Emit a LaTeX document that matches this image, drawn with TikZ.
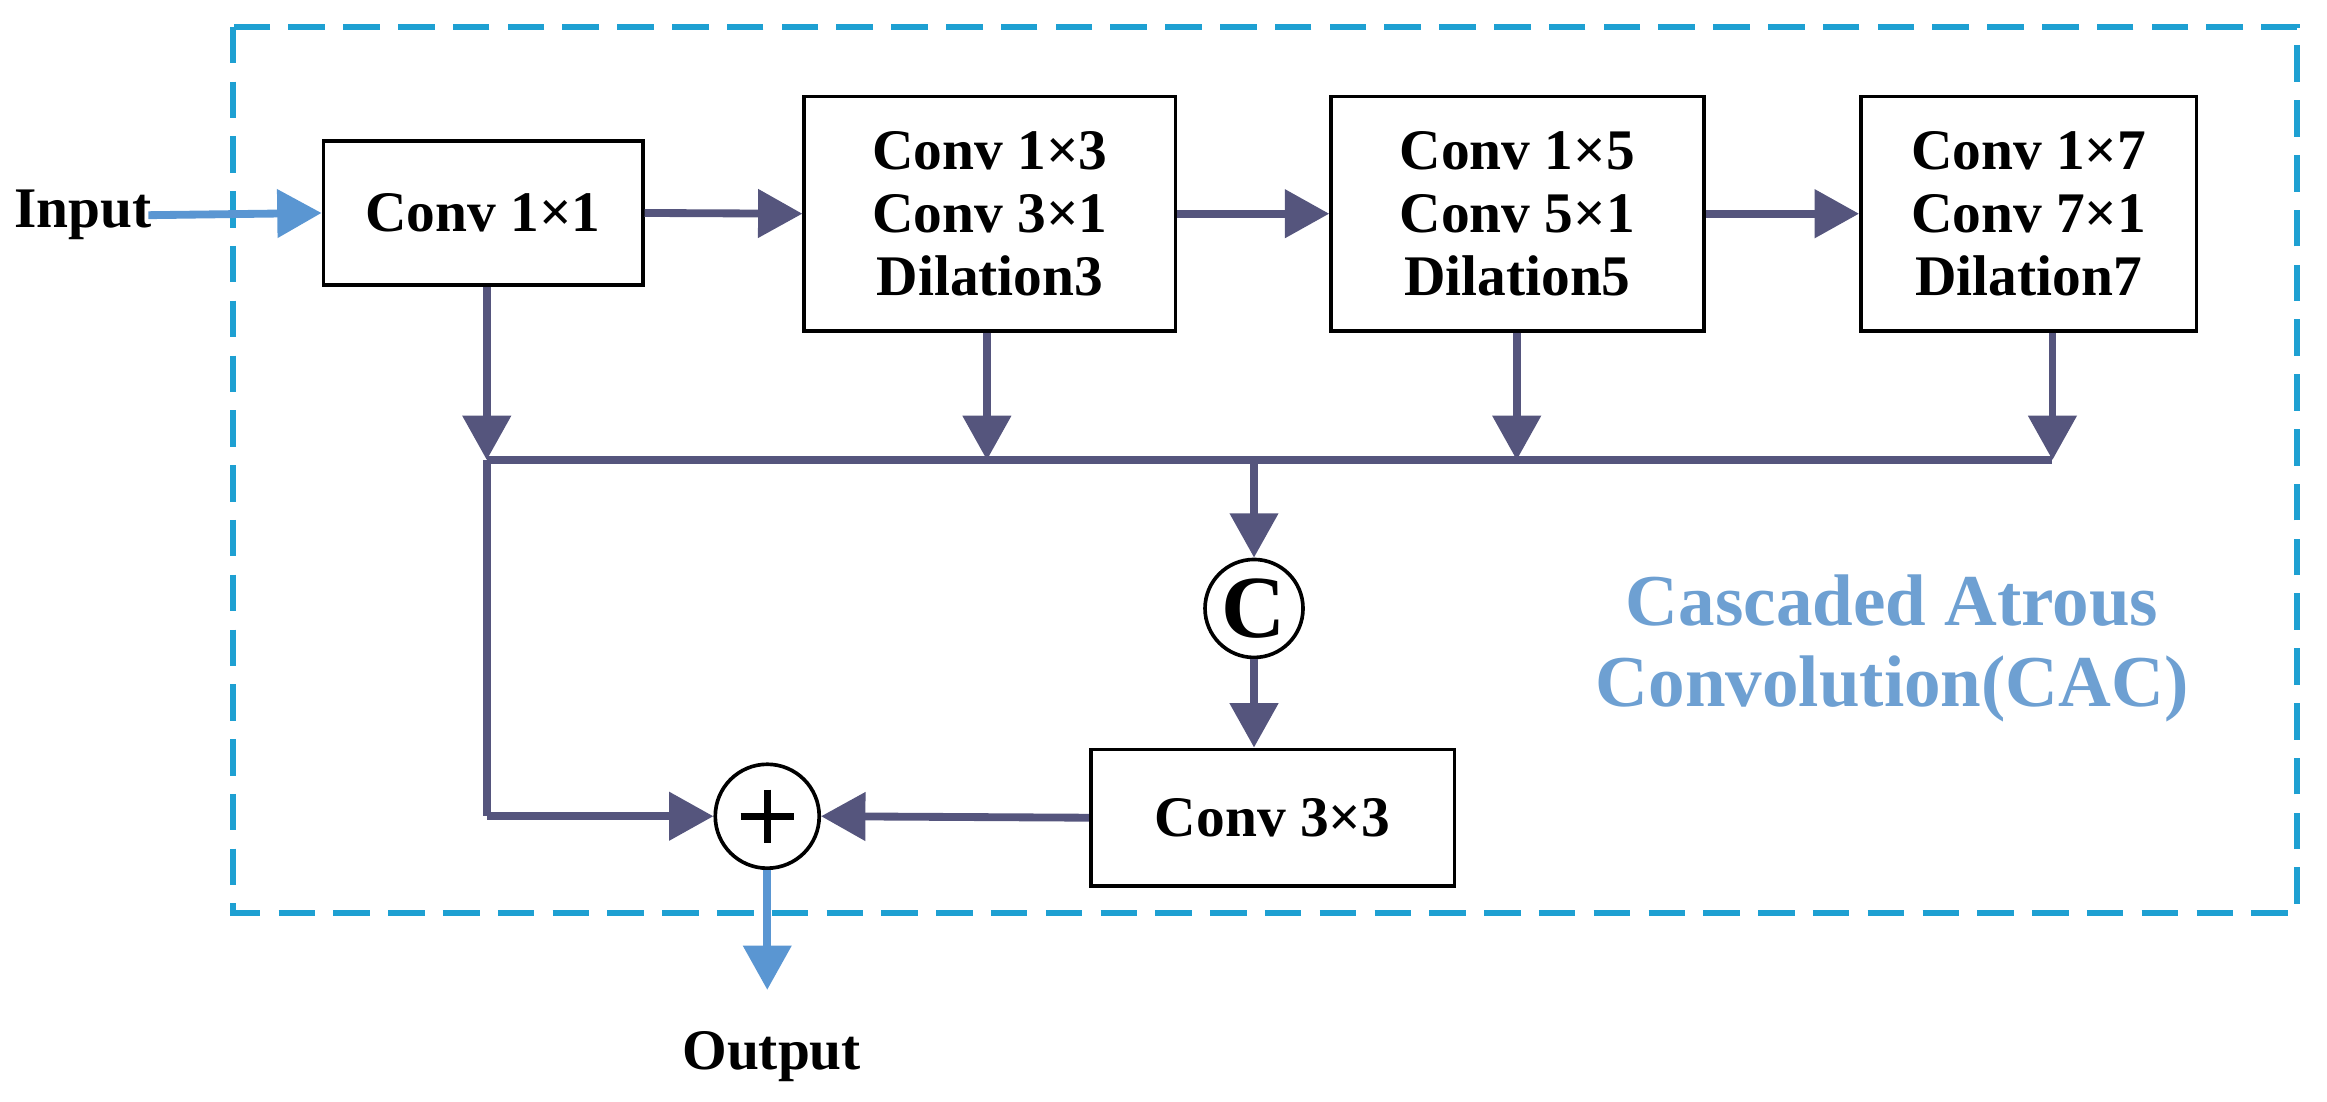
\documentclass[tikz,border=0pt]{standalone}
\usepackage{fontspec}
\setmainfont{Liberation Serif}
\usetikzlibrary{arrows.meta}
\definecolor{dk}{RGB}{85,85,125}
\definecolor{lb}{RGB}{90,150,210}
\definecolor{cy}{RGB}{30,160,210}
\definecolor{tl}{RGB}{110,160,210}
\begin{document}
\begin{tikzpicture}[x=0.01cm,y=-0.01cm,
 box/.style={draw=black,line width=0.7pt,fill=white,align=center,font=\fontsize{11}{12}\selectfont\bfseries,inner sep=0pt},
 arr/.style={draw=dk,line width=1.5pt,-{Triangle[width=9pt,length=8.5pt]}},
 ln/.style={draw=dk,line width=1.5pt},
 barr/.style={draw=lb,line width=1.5pt,-{Triangle[width=9pt,length=8.5pt]}},
 lbl/.style={font=\fontsize{11}{13}\selectfont\bfseries}]
\useasboundingbox (0,0) rectangle (1568,742);
\draw[cy,line width=1.1pt,dash pattern=on 7pt off 3.5pt] (157,18) rectangle (1548,615);
\node[box,minimum width=2.15cm,minimum height=0.97cm] (c1) at (325.5,143.5) {Conv 1×1};
\node[box,minimum width=2.5cm,minimum height=1.58cm] (c2) at (667,144) {Conv 1×3\\Conv 3×1\\Dilation3};
\node[box,minimum width=2.51cm,minimum height=1.58cm] (c3) at (1022.5,144) {Conv 1×5\\Conv 5×1\\Dilation5};
\node[box,minimum width=2.26cm,minimum height=1.58cm] (c4) at (1367,144) {Conv 1×7\\Conv 7×1\\Dilation7};
\node[box,minimum width=2.45cm,minimum height=0.92cm] (c33) at (857.5,551) {Conv 3×3};
\node[draw=black,line width=0.7pt,circle,minimum size=0.66cm,inner sep=0pt,font=\fontsize{17}{17}\selectfont\bfseries] (cc) at (845,410) {C};
\node[draw=black,line width=0.7pt,circle,minimum size=0.7cm,inner sep=0pt] (pl) at (517,550) {};
\draw[line width=1.3pt] (499,550) -- (535,550) (517,532) -- (517,568);
\node[lbl] (in) at (56,145) {Input};
\node[lbl] (out) at (520,712) {Output};
\node[font=\fontsize{14}{15.6}\selectfont\bfseries,text=tl,align=center] (cac) at (1275,437) {Cascaded Atrous\\Convolution(CAC)};
\coordinate (j1) at (328,310); \coordinate (j2) at (665,310);
\coordinate (j3) at (1022,310); \coordinate (j4) at (1383,310);
\coordinate (jm) at (845,310); \coordinate (jl) at (328,550);
\coordinate (o) at (517,667);
\coordinate (ie) at (100,145);
\draw[barr] (ie) -- (c1.west);
\draw[arr] (c1.east) -- (c2.west);
\draw[arr] (c2.east) -- (c3.west);
\draw[arr] (c3.east) -- (c4.west);
\draw[arr] (c1.south -| j1) -- (j1);
\draw[arr] (c2.south -| j2) -- (j2);
\draw[arr] (c3.south -| j3) -- (j3);
\draw[arr] (c4.south -| j4) -- (j4);
\draw[ln] (j1) -- (j4);
\draw[arr] (jm) -- (cc.north);
\draw[arr] (cc.south) -- (c33.north -| cc);
\draw[arr] (c33.west) -- (pl.east);
\draw[ln] (j1) -- (jl);
\draw[arr] (jl) -- (pl.west);
\draw[barr] (pl.south) -- (o);
\end{tikzpicture}
\end{document}
